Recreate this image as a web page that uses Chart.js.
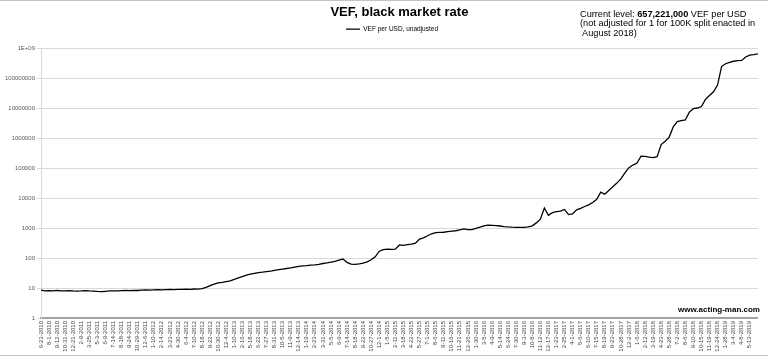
<!DOCTYPE html>
<html><head><meta charset="utf-8">
<script src="https://cdn.jsdelivr.net/npm/chart.js@4.4.1/dist/chart.umd.min.js"></script>
<style>
html,body{margin:0;padding:0;background:#fff;}
#wrap{position:relative;width:768px;height:357px;overflow:hidden;background:#fff;}
canvas{position:absolute;left:0;top:0;}
#note{position:absolute;left:580px;top:9.5px;font-family:Arial,"Liberation Sans",sans-serif;font-size:9.2px;line-height:9.7px;color:#000;white-space:pre;}
#site{position:absolute;left:678px;top:305px;font-family:Arial,"Liberation Sans",sans-serif;font-weight:bold;font-size:8px;color:#000;}
.rule{position:absolute;left:0;width:768px;height:1px;background:#c4c4c4;}
</style></head><body>
<div id="wrap">
<canvas id="c" width="768" height="357"></canvas>
<div class="rule" style="top:0"></div>
<div class="rule" style="top:355px"></div>
<div id="note">Current level: <b>657,221,000</b> VEF per USD
(not adjusted for 1 for 100K split enacted in
 August 2018)</div>
<div id="site">www.acting-man.com</div>
</div>
<script>
const chartTitle = 'VEF, black market rate';
const seriesName = 'VEF per USD, unadjusted';

const tickLabels = [
'6-23-2010','8-1-2010','9-12-2010','10-31-2010','12-21-2010','2-9-2011','3-25-2011','5-3-2011','6-9-2011','7-14-2011',
'8-18-2011','9-24-2011','10-29-2011','12-6-2011','1-10-2012','2-14-2012','3-23-2012','4-30-2012','6-4-2012','7-10-2012',
'8-18-2012','9-22-2012','10-30-2012','12-4-2012','1-10-2013','2-16-2013','5-18-2013','6-22-2013','7-27-2013','8-31-2013',
'10-5-2013','11-9-2013','12-14-2013','1-19-2014','2-23-2014','3-31-2014','5-5-2014','6-9-2014','7-14-2014','8-18-2014',
'9-22-2014','10-27-2014','12-1-2014','1-5-2015','2-11-2015','3-18-2015','4-22-2015','5-27-2015','7-1-2015','8-6-2015',
'9-11-2015','10-16-2015','11-21-2015','12-26-2015','1-30-2016','3-5-2016','4-9-2016','5-14-2016','6-24-2016','7-30-2016',
'9-3-2016','10-8-2016','11-12-2016','12-17-2016','1-23-2017','2-25-2017','4-1-2017','5-6-2017','6-10-2017','7-15-2017',
'8-19-2017','9-23-2017','10-28-2017','12-2-2017','1-6-2018','2-12-2018','3-19-2018','4-23-2018','5-28-2018','7-2-2018',
'8-6-2018','9-10-2018','10-15-2018','11-19-2018','12-24-2018','1-28-2019','3-4-2019','4-8-2019','5-13-2019'
];

const vefPerUsd = [
8.5, 8.0, 8.2, 8.0, 8.3, 8.1, 8.0, 8.2, 8.0, 7.9,
8.0, 8.2, 8.0, 7.9, 7.7, 7.6, 7.8, 8.0, 8.1, 8.0,
8.2, 8.3, 8.2, 8.4, 8.3, 8.5, 8.6, 8.5, 8.7, 8.8,
8.7, 8.9, 9.0, 8.9, 9.1, 9.0, 9.2, 9.1, 9.3, 9.2,
9.5, 10.5, 12, 13.5, 15, 15.5, 16.5, 17.5, 19.5, 22,
24, 27, 29, 31, 33, 34, 35.5, 37, 39, 41,
43, 45, 47, 50, 53, 55, 56, 58, 59, 62,
66, 69, 73, 78, 85, 93, 72, 63, 62, 64,
68, 75, 88, 110, 170, 192, 198, 195, 200, 275,
265, 280, 295, 315, 430, 475, 560, 650, 710, 720,
730, 770, 800, 820, 880, 940, 900, 900, 980, 1080,
1200, 1260, 1240, 1210, 1180, 1130, 1100, 1080, 1070, 1060,
1070, 1100, 1200, 1500, 2000, 4700, 2700, 3300, 3550, 3700,
4200, 2850, 3000, 4100, 4600, 5300, 6000, 7200, 9200, 16000,
13500, 18000, 24000, 32000, 44000, 70000, 105000, 128000, 150000, 255000,
250000, 235000, 228000, 245000, 620000, 800000, 1100000, 2400000, 3600000, 3900000,
4100000, 7500000, 9800000, 10300000, 11500000, 20000000, 27000000, 36000000, 60000000, 250000000,
310000000, 345000000, 375000000, 395000000, 400000000, 520000000, 600000000, 625000000, 657221000
];

const yTickValues = [1, 10, 100, 1000, 10000, 100000, 1000000, 10000000, 100000000, 1000000000];
const yTickLabels = ['1','10','100','1000','10000','100000','1000000','10000000','100000000','1E+09'];

// categories: one labelled category every second point
const categories = vefPerUsd.map((v, i) => (i % 2 === 0 && tickLabels[i / 2] !== undefined) ? tickLabels[i / 2] : '');

Chart.defaults.font.family = 'Arial, "Liberation Sans", sans-serif';

const legendSpacer = {
  id: 'legendSpacer',
  beforeLayout(chart) {
    const lg = chart.legend;
    if (lg && !lg._spaced) {
      const orig = lg.fit;
      lg.fit = function () { orig.call(this); this.height += 6.2; };
      lg._spaced = true;
    }
  },
  afterLayout(chart) {
    const lg = chart.legend;
    if (lg) { lg.left += 10.5; lg.right += 10.5; }
  }
};

new Chart(document.getElementById('c'), {
  type: 'line',
  data: {
    labels: categories,
    datasets: [{
      label: seriesName,
      data: vefPerUsd,
      borderColor: '#000000',
      backgroundColor: '#000000',
      borderWidth: 1.3,
      pointRadius: 0,
      tension: 0,
      fill: false
    }]
  },
  options: {
    responsive: false,
    animation: false,
    devicePixelRatio: 1,
    layout: { padding: { left: 0, right: 5, top: 0, bottom: 0 } },
    plugins: {
      title: {
        display: true, text: chartTitle, fullSize: false, color: '#000',
        font: { size: 13, weight: 'bold' }, padding: { top: 4.7, bottom: 0 }
      },
      legend: {
        display: true, position: 'top',
        labels: {
          usePointStyle: true, pointStyle: 'line', pointStyleWidth: 14,
          color: '#000', font: { size: 6.5 }, padding: 5.5
        }
      },
      tooltip: { enabled: false }
    },
    scales: {
      x: {
        type: 'category',
        grid: { display: false, drawTicks: false },
        border: { display: true, color: '#a3a3a3', width: 2 },
        ticks: {
          autoSkip: false, minRotation: 90, maxRotation: 90,
          color: '#404040', font: { size: 6 }, padding: 3
        },
        afterFit(s) { s.height = 39; }
      },
      y: {
        type: 'logarithmic', min: 1, max: 1000000000,
        afterBuildTicks(s) { s.ticks = yTickValues.map(v => ({ value: v })); },
        ticks: {
          autoSkip: false, color: '#595959', font: { size: 6 }, padding: 2,
          callback: (v, i) => yTickLabels[i]
        },
        grid: { color: '#d9d9d9', lineWidth: 1, drawTicks: true, tickLength: 4, tickColor: '#d9d9d9' },
        border: { display: true, color: '#d9d9d9', width: 1 },
        afterFit(s) { s.width = 41; }
      }
    }
  },
  plugins: [legendSpacer]
});
</script>
</body></html>
